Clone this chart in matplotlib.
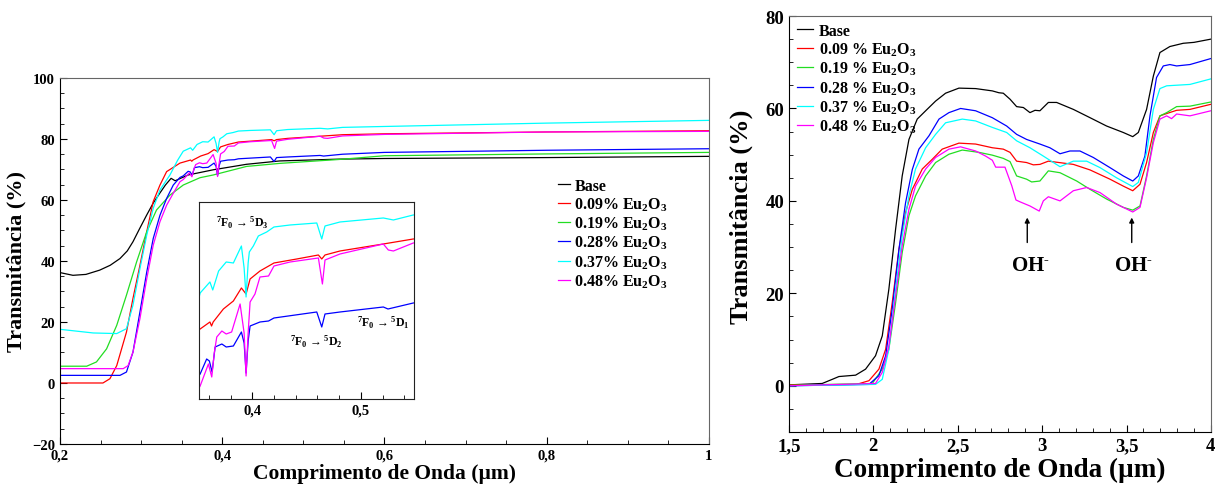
import numpy as np
import matplotlib
matplotlib.use("Agg")
import matplotlib.pyplot as plt
from matplotlib.ticker import MultipleLocator, FuncFormatter, NullLocator

plt.rcParams['font.family'] = ['Liberation Serif', 'DejaVu Serif']
plt.rcParams['font.weight'] = 'bold'
plt.rcParams['mathtext.fontset'] = 'custom'
plt.rcParams['mathtext.rm'] = 'Liberation Serif:bold'
plt.rcParams['mathtext.bf'] = 'Liberation Serif:bold'
plt.rcParams['mathtext.it'] = 'Liberation Serif:bold:italic'
plt.rcParams['mathtext.default'] = 'bf'

colors = ['black', '#ff0000', '#22dd22', '#0000ff', '#00ffff', '#ff00ff']
uv_labels = ['Base', '0.09% Eu$_2$O$_3$', '0.19% Eu$_2$O$_3$', '0.28% Eu$_2$O$_3$',
             '0.37% Eu$_2$O$_3$', '0.48% Eu$_2$O$_3$']
ir_labels = ['Base', '0.09 % Eu$_2$O$_3$', '0.19 % Eu$_2$O$_3$', '0.28 % Eu$_2$O$_3$',
             '0.37 % Eu$_2$O$_3$', '0.48 % Eu$_2$O$_3$']

# ---- UV-Vis (left) ----
uv_x_base = [0.200, 0.216, 0.232, 0.249, 0.262, 0.274, 0.283, 0.290, 0.298, 0.307, 0.315,
             0.323, 0.330, 0.337, 0.342, 0.358, 0.389, 0.430, 0.471, 0.545, 0.600, 0.800, 1.000]
uv_y_base = [36.2, 35.3, 35.6, 37.0, 38.6, 40.8, 43.3, 46.3, 50.5, 55.1, 59.0,
             62.2, 64.9, 67.1, 66.3, 68.2, 69.9, 71.7, 72.8, 73.4, 73.6, 73.9, 74.3]

uv_x_009 = [0.200, 0.253, 0.2616, 0.270, 0.282, 0.290, 0.2986, 0.307, 0.315, 0.3233, 0.3315,
            0.348, 0.352, 0.361, 0.3625, 0.364, 0.3734, 0.3826, 0.390, 0.3943, 0.398, 0.4071,
            0.420, 0.441, 0.4609, 0.464, 0.467, 0.4808, 0.5207, 0.5483, 0.600, 0.800, 1.000]
uv_y_009 = [0.0, 0.0, 1.4, 5.7, 16.7, 27.7, 38.6, 49.6, 59.5, 64.9, 69.3,
            72.1, 72.4, 73.1, 72.7, 73.1, 74.4, 75.2, 76.5, 75.9, 77.4, 78.2,
            79.0, 79.4, 79.8, 79.4, 79.8, 80.2, 80.9, 81.4, 81.7, 82.3, 82.7]

uv_x_019 = [0.200, 0.233, 0.245, 0.2575, 0.270, 0.282, 0.2945, 0.307, 0.319, 0.3356, 0.352,
            0.3726, 0.389, 0.430, 0.471, 0.545, 0.600, 0.800, 1.000]
uv_y_019 = [5.5, 5.5, 6.9, 11.2, 18.9, 28.8, 39.7, 49.6, 56.7, 61.6, 64.9,
            67.3, 68.2, 71.0, 72.0, 73.3, 74.5, 75.1, 75.6]

uv_x_028 = [0.200, 0.274, 0.282, 0.290, 0.2986, 0.307, 0.315, 0.3233, 0.3315, 0.3397, 0.348,
            0.352, 0.358, 0.3605, 0.3630, 0.3658, 0.372, 0.376, 0.3826, 0.390, 0.3925, 0.3943,
            0.3962, 0.398, 0.4071, 0.415, 0.420, 0.4594, 0.464, 0.467, 0.4808, 0.5207, 0.525,
            0.5483, 0.600, 0.800, 1.000]
uv_y_028 = [2.5, 2.5, 3.6, 10.1, 23.3, 36.4, 47.4, 55.0, 60.5, 64.9, 67.4,
            67.9, 69.4, 69.2, 68.1, 70.6, 70.9, 70.6, 70.7, 72.1, 71.0, 68.0,
            71.2, 72.7, 73.1, 73.2, 73.5, 74.1, 72.6, 73.9, 74.1, 74.6, 74.4,
            75.0, 75.6, 76.3, 76.8]

uv_x_037 = [0.200, 0.241, 0.270, 0.282, 0.290, 0.2986, 0.307, 0.315, 0.3233, 0.3356, 0.345,
            0.352, 0.361, 0.3636, 0.369, 0.376, 0.3826, 0.390, 0.3925, 0.3943, 0.3962, 0.3973,
            0.401, 0.4056, 0.4133, 0.420, 0.4348, 0.4594, 0.464, 0.467, 0.4808, 0.5207, 0.530,
            0.5483, 0.600, 0.800, 1.000]
uv_y_037 = [17.6, 16.4, 16.2, 17.8, 25.5, 37.5, 48.5, 57.3, 63.3, 68.2, 73.0,
            76.0, 77.1, 76.3, 78.2, 79.1, 79.0, 80.7, 78.5, 75.6, 79.0, 80.1,
            80.7, 81.7, 82.1, 82.6, 82.8, 83.0, 81.4, 82.7, 83.1, 83.5, 83.3,
            83.8, 84.1, 85.2, 86.1]

uv_x_048 = [0.200, 0.278, 0.284, 0.290, 0.2986, 0.307, 0.315, 0.3233, 0.3315, 0.3397, 0.348,
            0.352, 0.3596, 0.3627, 0.3650, 0.3673, 0.372, 0.376, 0.381, 0.3888, 0.3925, 0.3943,
            0.3962, 0.398, 0.4025, 0.4071, 0.415, 0.420, 0.4348, 0.4609, 0.4646, 0.467, 0.4808,
            0.5207, 0.5253, 0.530, 0.5483, 0.600, 0.800, 1.000]
uv_y_048 = [4.7, 4.7, 5.7, 10.1, 21.1, 34.2, 45.2, 52.9, 58.3, 62.2, 66.0,
            66.7, 68.9, 67.6, 70.0, 71.6, 72.2, 71.9, 72.1, 74.9, 72.0, 67.7,
            72.0, 75.1, 75.9, 77.6, 77.7, 78.7, 79.1, 79.5, 76.9, 79.3, 79.9,
            80.9, 80.3, 80.2, 81.0, 81.5, 82.3, 82.5]

# ---- IR (right) ----
ir_x_base = [1.50, 1.697, 1.757, 1.796, 1.895, 1.954, 2.013, 2.053, 2.092, 2.132, 2.171, 2.211,
             2.26, 2.31, 2.369, 2.428, 2.507, 2.606, 2.705, 2.744, 2.770, 2.81, 2.849, 2.889,
             2.928, 2.958, 2.987, 3.037, 3.086, 3.185, 3.284, 3.382, 3.481, 3.537, 3.570, 3.619,
             3.659, 3.698, 3.757, 3.836, 3.90, 4.0]
ir_y_base = [0.2, 0.5, 1.4, 2.0, 2.3, 3.6, 6.5, 10.8, 20.9, 33.9, 45.4, 53.3,
             57.7, 59.5, 61.6, 63.3, 64.4, 64.3, 63.8, 63.4, 63.3, 62.0, 60.4, 60.2,
             59.1, 59.6, 59.5, 61.3, 61.3, 59.8, 58.0, 56.2, 54.8, 53.9, 54.8, 59.8,
             67.0, 72.1, 73.4, 74.1, 74.3, 75.0]

ir_x_009 = [1.50, 1.90, 1.974, 2.033, 2.073, 2.112, 2.152, 2.191, 2.231, 2.29, 2.349, 2.408,
            2.507, 2.606, 2.705, 2.77, 2.81, 2.849, 2.908, 2.948, 2.987, 3.037, 3.185, 3.284,
            3.402, 3.481, 3.537, 3.58, 3.619, 3.659, 3.698, 3.738, 3.797, 3.876, 4.0]
ir_y_009 = [0.2, 0.3, 1.1, 3.6, 7.9, 18.0, 29.6, 37.5, 42.5, 46.9, 49.0, 51.2,
            52.5, 52.3, 51.5, 51.2, 50.5, 48.6, 48.3, 47.8, 47.9, 48.6, 47.9, 46.7,
            44.7, 43.2, 42.2, 43.6, 48.3, 54.8, 58.4, 58.9, 59.6, 59.8, 60.9]

ir_x_019 = [1.50, 1.994, 2.053, 2.092, 2.132, 2.171, 2.211, 2.25, 2.31, 2.369, 2.448, 2.527,
            2.626, 2.705, 2.77, 2.81, 2.849, 2.908, 2.938, 2.987, 3.037, 3.106, 3.205, 3.284,
            3.382, 3.481, 3.537, 3.58, 3.619, 3.659, 3.698, 3.738, 3.797, 3.876, 4.0]
ir_y_019 = [0.1, 0.5, 3.6, 7.9, 18.0, 28.8, 36.8, 41.1, 45.4, 48.3, 50.1, 51.0,
            50.5, 49.9, 49.2, 48.5, 45.4, 44.7, 44.1, 44.3, 46.5, 46.1, 44.3, 42.5,
            40.4, 38.6, 38.0, 38.9, 45.4, 53.3, 58.4, 59.1, 60.4, 60.5, 61.4]

ir_x_028 = [1.50, 1.974, 2.033, 2.073, 2.112, 2.152, 2.191, 2.231, 2.27, 2.33, 2.389, 2.448,
            2.517, 2.606, 2.705, 2.79, 2.849, 2.908, 2.987, 3.046, 3.106, 3.165, 3.224, 3.303,
            3.402, 3.481, 3.537, 3.570, 3.609, 3.639, 3.678, 3.718, 3.757, 3.797, 3.876, 4.0]
ir_y_028 = [0.0, 0.3, 2.2, 6.5, 16.6, 29.6, 39.6, 46.8, 51.2, 54.1, 57.7, 59.1,
            60.0, 59.5, 58.0, 56.2, 54.4, 53.3, 52.3, 51.5, 50.2, 50.8, 50.8, 49.4,
            47.2, 45.4, 44.3, 45.4, 49.7, 58.4, 66.7, 69.2, 69.5, 69.2, 69.5, 70.8]

ir_x_037 = [1.50, 2.013, 2.053, 2.092, 2.132, 2.171, 2.211, 2.25, 2.31, 2.369, 2.428, 2.527,
            2.606, 2.705, 2.79, 2.849, 2.928, 3.007, 3.106, 3.185, 3.264, 3.343, 3.441, 3.537,
            3.570, 3.619, 3.659, 3.698, 3.738, 3.876, 4.0]
ir_y_037 = [0.0, 0.3, 1.4, 7.9, 20.9, 32.4, 41.1, 46.9, 51.5, 54.4, 56.9, 57.7,
            57.3, 55.9, 54.8, 53.0, 51.5, 49.7, 47.4, 48.6, 48.6, 47.2, 45.0, 43.1,
            44.0, 50.4, 59.8, 64.3, 64.9, 65.2, 66.4]

ir_x_048 = [1.50, 2.013, 2.053, 2.092, 2.132, 2.171, 2.211, 2.25, 2.31, 2.369, 2.448, 2.517,
            2.606, 2.665, 2.705, 2.725, 2.78, 2.82, 2.845, 2.869, 2.928, 2.983, 3.007, 3.037,
            3.106, 3.185, 3.264, 3.343, 3.441, 3.537, 3.58, 3.619, 3.659, 3.698, 3.738, 3.767,
            3.797, 3.876, 4.0]
ir_y_048 = [0.0, 0.5, 2.9, 8.6, 19.5, 30.3, 38.2, 43.2, 46.9, 49.4, 51.2, 51.7,
            50.8, 49.7, 48.8, 47.3, 47.3, 43.3, 40.2, 39.8, 38.9, 37.8, 40.0, 40.9,
            40.0, 42.2, 42.9, 41.8, 39.3, 37.6, 38.6, 45.0, 52.6, 57.7, 58.4, 57.8,
            58.8, 58.4, 59.5]

uv_x = [uv_x_base, uv_x_009, uv_x_019, uv_x_028, uv_x_037, uv_x_048]
uv_y = [uv_y_base, uv_y_009, uv_y_019, uv_y_028, uv_y_037, uv_y_048]
ir_x = [ir_x_base, ir_x_009, ir_x_019, ir_x_028, ir_x_037, ir_x_048]
ir_y = [ir_y_base, ir_y_009, ir_y_019, ir_y_028, ir_y_037, ir_y_048]


def comma_fmt(v, pos):
    return f'{v:g}'.replace('.', ',').replace('-', '\u2212')


def style_axes(ax, fs):
    ax.tick_params(which='both', direction='in', top=False, right=False, labelsize=fs)
    ax.tick_params(which='major', length=5, width=0.8)
    ax.tick_params(which='minor', length=3, width=0.6)
    for side in ('top', 'right'):
        ax.spines[side].set_color('#666666')
    ax.xaxis.set_major_formatter(FuncFormatter(comma_fmt))
    ax.yaxis.set_major_formatter(FuncFormatter(comma_fmt))
    for lab in ax.get_xticklabels() + ax.get_yticklabels():
        lab.set_fontweight('bold')


fig = plt.figure(figsize=(12.16, 4.89), dpi=100)

# left panel
ax1 = fig.add_axes([0.0493, 0.09, 0.5337, 0.7485])
for xs, ys, c, lab in zip(uv_x, uv_y, colors, uv_labels):
    ax1.plot(xs, ys, color=c, lw=0.9, label=lab)
ax1.set_xlim(0.2, 1.0)
ax1.set_ylim(-20, 100)
ax1.xaxis.set_major_locator(MultipleLocator(0.2))
ax1.xaxis.set_minor_locator(MultipleLocator(0.05))
ax1.yaxis.set_major_locator(MultipleLocator(20))
ax1.yaxis.set_minor_locator(MultipleLocator(5))
style_axes(ax1, 10.5)
ax1.set_xlabel('Comprimento de Onda (\u00b5m)', fontsize=15.5, fontweight='bold', labelpad=1)
ax1.set_ylabel('Transmit\u00e2ncia (%)', fontsize=16, fontweight='bold', labelpad=4)
ax1.legend(loc='upper left', bbox_to_anchor=(0.767, 0.728), frameon=False, fontsize=11.5,
           borderpad=0, borderaxespad=0, handlelength=0.8, handletextpad=0.25,
           labelspacing=0.12)

# inset
axin = fig.add_axes([0.1637, 0.182, 0.1768, 0.4029])
for xs, ys, c in zip(uv_x[1:], uv_y[1:], colors[1:]):
    if c == '#22dd22':
        continue
    axin.plot(xs, ys, color=c, lw=0.9)
axin.set_xlim(0.351, 0.549)
axin.set_ylim(65.4, 85.1)
axin.xaxis.set_major_locator(MultipleLocator(0.1))
axin.xaxis.set_minor_locator(MultipleLocator(0.02))
axin.yaxis.set_major_locator(NullLocator())
axin.yaxis.set_minor_locator(NullLocator())
style_axes(axin, 10.5)
for side in ('top', 'right', 'left', 'bottom'):
    axin.spines[side].set_color('#222222')
axin.text(0.367, 83.1, '$^7$F$_0$ \u2192 $^5$D$_3$', fontsize=8.5, va='center', ha='left')
axin.text(0.435, 71.2, '$^7$F$_0$ \u2192 $^5$D$_2$', fontsize=8.5, va='center', ha='left')
axin.text(0.4965, 73.1, '$^7$F$_0$ \u2192 $^5$D$_1$', fontsize=8.5, va='center', ha='left')

# right panel
ax2 = fig.add_axes([0.6488, 0.1145, 0.347, 0.8507])
for xs, ys, c, lab in zip(ir_x, ir_y, colors, ir_labels):
    ax2.plot(xs, ys, color=c, lw=0.9, label=lab)
ax2.set_xlim(1.5, 4.0)
ax2.set_ylim(-10, 80)
ax2.xaxis.set_major_locator(MultipleLocator(0.5))
ax2.xaxis.set_minor_locator(MultipleLocator(0.1))
ax2.yaxis.set_major_locator(MultipleLocator(20))
ax2.yaxis.set_minor_locator(MultipleLocator(5))
style_axes(ax2, 13.5)
ax2.set_xlabel('Comprimento de Onda (\u00b5m)', fontsize=19.5, fontweight='bold', labelpad=2)
ax2.set_ylabel('Transmit\u00e2ncia (%)', fontsize=19, fontweight='bold', labelpad=6)
ax2.yaxis.set_label_coords(-0.085, 0.52)
ax2.legend(loc='upper left', bbox_to_anchor=(0.018, 0.984), frameon=False, fontsize=11.5,
           borderpad=0, borderaxespad=0, handlelength=1.0, handletextpad=0.4,
           labelspacing=0.12)

for xa, xt in [(2.912, 2.928), (3.531, 3.541)]:
    ax2.annotate('', xy=(xa, 37.0), xytext=(xa, 30.4),
                 arrowprops=dict(arrowstyle='-|>', color='black', lw=1, mutation_scale=7))
    ax2.text(xt, 26.1, 'OH$^{\u2010}$', fontsize=15, ha='center', va='center')

fig.savefig('out.png', dpi=100)
